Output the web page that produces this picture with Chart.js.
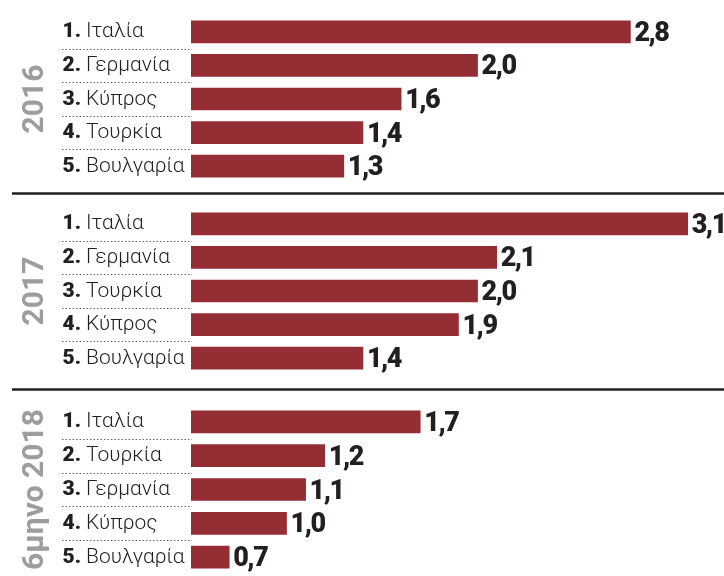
<!DOCTYPE html>
<html>
<head>
<meta charset="utf-8">
<script src="https://cdn.jsdelivr.net/npm/chart.js@4.4.1/dist/chart.umd.min.js"></script>
<style>
  html, body { margin: 0; padding: 0; background: #fff; }
  #wrap { position: relative; width: 724px; height: 576px; overflow: hidden; }
  #wrap canvas { position: absolute; left: 0; }
</style>
</head>
<body>
<div id="wrap">
  <canvas id="c2016" width="724" height="196" style="top:0"></canvas>
  <canvas id="c2017" width="724" height="196" style="top:196px"></canvas>
  <canvas id="c2018" width="724" height="184" style="top:392px"></canvas>
</div>
<script>
// data
const YEAR_LABELS = ['2016', '2017', '6μηνο 2018'];
const COUNTRIES_2016 = ['Ιταλία', 'Γερμανία', 'Κύπρος', 'Τουρκία', 'Βουλγαρία'];
const VALUES_2016 = [2.8, 2.0, 1.6, 1.4, 1.3];
const COUNTRIES_2017 = ['Ιταλία', 'Γερμανία', 'Τουρκία', 'Κύπρος', 'Βουλγαρία'];
const VALUES_2017 = [3.1, 2.1, 2.0, 1.9, 1.4];
const COUNTRIES_2018 = ['Ιταλία', 'Τουρκία', 'Γερμανία', 'Κύπρος', 'Βουλγαρία'];
const VALUES_2018 = [1.7, 1.2, 1.1, 1.0, 0.7];

const BAR_COLOR = '#952d35';
const TEXT_COLOR = '#231f20';

// labels, dotted row lines, values, rotated year and group separator
const rowsPlugin = {
    id: 'rows',
    afterDraw(chart, args, opts) {
        const ctx = chart.ctx;
        const y = chart.scales.y;
        const meta = chart.getDatasetMeta(0);
        const labels = chart.data.labels;
        const values = chart.data.datasets[0].data;
        ctx.save();

        // dotted lines between rows
        ctx.strokeStyle = '#666';
        ctx.lineWidth = 1;
        ctx.setLineDash([1.5, 2]);
        for (let i = 0; i < labels.length - 1; i++) {
            const yy = Math.round((y.getPixelForValue(i) + y.getPixelForValue(i + 1)) / 2) + 0.5;
            ctx.beginPath();
            ctx.moveTo(62, yy);
            ctx.lineTo(192, yy);
            ctx.stroke();
        }
        ctx.setLineDash([]);

        labels.forEach((name, i) => {
            const py = y.getPixelForValue(i);
            ctx.fillStyle = TEXT_COLOR;
            ctx.textBaseline = 'alphabetic';
            ctx.textAlign = 'right';
            ctx.letterSpacing = '0px';
            ctx.font = '900 21px Roboto, "DejaVu Sans", sans-serif';
            ctx.fillText((i + 1) + '.', 81, py + 5.5);
            ctx.textAlign = 'left';
            ctx.font = '300 21px Roboto, "DejaVu Sans", sans-serif';
            ctx.fillText(name, 86, py + 5.5);

            // value at the end of the bar
            const bar = meta.data[i];
            ctx.font = '900 27px Roboto, "DejaVu Sans", sans-serif';
            ctx.letterSpacing = '-1.5px';
            ctx.fillText(values[i].toFixed(1).replace('.', ','), bar.x + 4, py + 9);
        });
        ctx.letterSpacing = '0px';

        // year label, rotated
        const area = chart.chartArea;
        const cy = (area.top + area.bottom) / 2;
        ctx.translate(43, cy);
        ctx.rotate(-Math.PI / 2);
        ctx.fillStyle = '#9d9d9d';
        ctx.font = 'bold 30px Roboto, "DejaVu Sans", sans-serif';
        ctx.textAlign = 'center';
        ctx.textBaseline = 'alphabetic';
        ctx.fillText(opts.year, 0, 0);
        ctx.restore();

        if (opts.separator) {
            ctx.save();
            ctx.strokeStyle = TEXT_COLOR;
            ctx.lineWidth = 2.5;
            ctx.beginPath();
            ctx.moveTo(12, 193.5);
            ctx.lineTo(724, 193.5);
            ctx.stroke();
            ctx.restore();
        }
    }
};

function makeChart(id, countries, values, year, pad, separator) {
    return new Chart(document.getElementById(id), {
        type: 'bar',
        data: {
            labels: countries,
            datasets: [{
                data: values,
                backgroundColor: BAR_COLOR,
                borderWidth: 0,
                barThickness: 22
            }]
        },
        options: {
            indexAxis: 'y',
            responsive: false,
            animation: false,
            layout: { padding: { left: 191, right: 0, top: pad[0], bottom: pad[1] } },
            scales: {
                x: { display: false, min: 0.5, max: 3.29 },
                y: { display: false }
            },
            plugins: {
                legend: { display: false },
                tooltip: { enabled: false },
                rows: { year: year, separator: separator }
            }
        },
        plugins: [rowsPlugin]
    });
}

makeChart('c2016', COUNTRIES_2016, VALUES_2016, YEAR_LABELS[0], [15, 13], true);
makeChart('c2017', COUNTRIES_2017, VALUES_2017, YEAR_LABELS[1], [11, 17], true);
makeChart('c2018', COUNTRIES_2018, VALUES_2018, YEAR_LABELS[2], [13, 2], false);
</script>
</body>
</html>
